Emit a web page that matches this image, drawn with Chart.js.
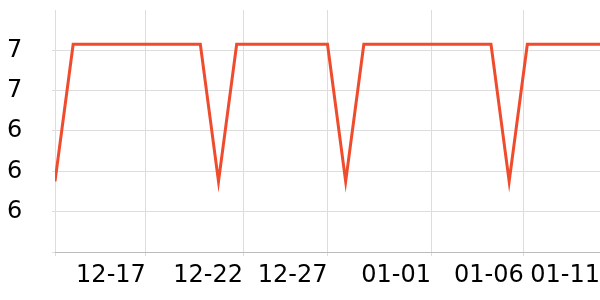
<!DOCTYPE html>
<html>
<head>
<meta charset="utf-8">
<script src="https://cdn.jsdelivr.net/npm/chart.js@4/dist/chart.umd.min.js"></script>
<style>
  html, body { margin: 0; padding: 0; background: #fff; }
  #wrap { width: 600px; height: 300px; }
</style>
</head>
<body>
<div id="wrap"><canvas id="chart"></canvas></div>
<script>
// one point per day, 12-12 .. 01-11
const days = ['12-12','12-13','12-14','12-15','12-16','12-17','12-18','12-19','12-20','12-21',
              '12-22','12-23','12-24','12-25','12-26','12-27','12-28','12-29','12-30','12-31',
              '01-01','01-02','01-03','01-04','01-05','01-06','01-07','01-08','01-09','01-10','01-11'];
const values = [6.15, 6.83, 6.83, 6.83, 6.83, 6.83, 6.83, 6.83, 6.83, 6.15,
                6.83, 6.83, 6.83, 6.83, 6.83, 6.83, 6.15, 6.83, 6.83, 6.83,
                6.83, 6.83, 6.83, 6.83, 6.83, 6.15, 6.83, 6.83, 6.83, 6.83, 6.83];

// x ticks (position on the point index) and their labels
const tickPos    = [0, 5, 10.35, 15, 20.7, 25.8, 30];
const tickLabels = ['', '12-17', '12-22', '12-27', '01-01', '01-06', '01-11'];

const yMin = 5.8, yMax = 7.0, yStep = 0.2;

const lineColor = '#ef4b2c';
const gridColor = '#dddddd';
const font = { family: 'DejaVu Sans', size: 24 };

const points = values.map((v, i) => ({ x: i, y: v }));

new Chart(document.getElementById('chart').getContext('2d'), {
    type: 'line',
    data: {
        labels: days,
        datasets: [{
            data: points,
            borderColor: lineColor,
            borderWidth: 3,
            pointRadius: 0,
            tension: 0,
            fill: false
        }]
    },
    options: {
        responsive: true,
        maintainAspectRatio: false,
        animation: false,
        layout: { padding: { top: 10, left: 7, right: 0, bottom: 0 } },
        plugins: { legend: { display: false }, tooltip: { enabled: false } },
        scales: {
            x: {
                type: 'linear',
                min: 0,
                max: values.length - 1,
                afterBuildTicks: (scale) => {
                    scale.ticks = tickPos.map(v => ({ value: v }));
                },
                afterFit: (scale) => {
                    scale.height = 48;
                    scale.paddingLeft = 0;
                    scale.paddingRight = 0;
                },
                border: { color: '#bbbbbb', width: 1 },
                grid: {
                    color: (ctx) => ctx.index === tickPos.length - 1 ? 'rgba(0,0,0,0)' : gridColor,
                    tickLength: 4
                },
                ticks: {
                    autoSkip: false,
                    maxRotation: 0,
                    align: 'end',
                    padding: 5,
                    color: '#000',
                    font: font,
                    callback: (v, i) => tickLabels[i]
                }
            },
            y: {
                min: yMin,
                max: yMax,
                afterFit: (scale) => {
                    scale.width = 48;
                    scale.paddingTop = 0;
                    scale.paddingBottom = 0;
                },
                border: { display: false },
                grid: {
                    color: (ctx) => (ctx.tick && ctx.tick.value > yMax - 0.01) ? 'rgba(0,0,0,0)' : gridColor,
                    tickLength: 3
                },
                ticks: {
                    stepSize: yStep,
                    crossAlign: 'far',
                    color: '#000',
                    font: font,
                    callback: (v) => (v < yMin + 0.01 || v > yMax - 0.01) ? '' : Math.round(v)
                }
            }
        }
    }
});
</script>
</body>
</html>
